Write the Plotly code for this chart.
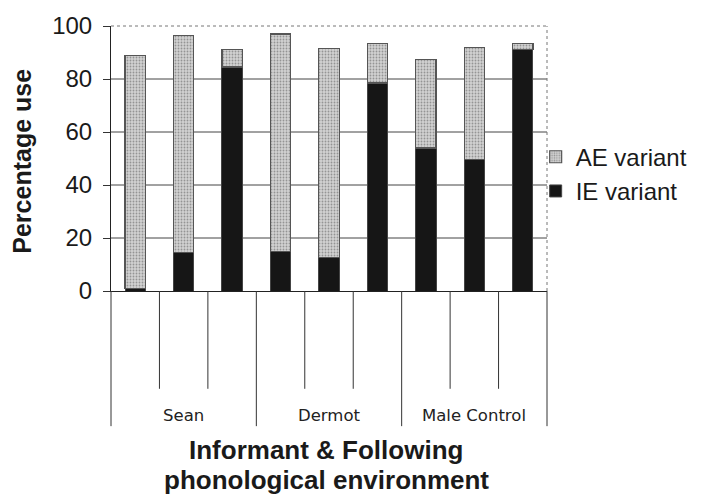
import plotly.graph_objects as go

groups = ["Sean", "Dermot", "Male Control"]
envs_per_group = 3
ie_variant = [1, 14.5, 84.5, 15, 12.5, 78.5, 54, 49.5, 91]
ae_variant = [88, 82, 6.5, 82, 79, 15, 33.5, 42.5, 2.5]
y_ticks = [0, 20, 40, 60, 80, 100]

n = len(ie_variant)
xs = list(range(n))

fig = go.Figure()
fig.add_trace(go.Bar(
    x=xs, y=ie_variant, name="IE variant",
    marker=dict(color="#161616", line=dict(color="#444", width=1)),
))
fig.add_trace(go.Bar(
    x=xs, y=ae_variant, name="AE variant",
    marker=dict(color="#cfcfcf", line=dict(color="#555", width=1.2),
                pattern=dict(shape=".", fgcolor="#555", bgcolor="#d2d2d2",
                             size=3, solidity=0.3)),
))

shapes = []
for v in y_ticks[1:-1]:
    shapes.append(dict(type="line", xref="paper", yref="y", x0=0, x1=1, y0=v, y1=v,
                       line=dict(color="#444", width=1), layer="below"))
shapes.append(dict(type="line", xref="paper", yref="paper", x0=0, x1=1, y0=1, y1=1,
                   line=dict(color="#777", width=1, dash="dot")))
shapes.append(dict(type="line", xref="paper", yref="paper", x0=1, x1=1, y0=0, y1=1,
                   line=dict(color="#777", width=1, dash="dot")))
for i in range(n + 1):
    is_group = (i % envs_per_group == 0)
    shapes.append(dict(type="line", xref="paper", yref="paper",
                       x0=i / n, x1=i / n, y0=0, y1=-0.51 if is_group else -0.369,
                       line=dict(color="#333", width=1)))

annotations = []
for g, name in enumerate(groups):
    annotations.append(dict(text=name, xref="paper", yref="paper",
                            x=(g * envs_per_group + envs_per_group / 2) / n, y=-0.47,
                            showarrow=False, xanchor="center", yanchor="middle",
                            font=dict(family="DejaVu Sans", size=16.5, color="#222")))
for txt, yy in [("Informant & Following", -0.600), ("phonological environment", -0.712)]:
    annotations.append(dict(text="<b>" + txt + "</b>", xref="paper", yref="paper",
                            x=0.494, y=yy, showarrow=False,
                            xanchor="center", yanchor="middle",
                            font=dict(family="Liberation Sans", size=26, color="#1a1a1a")))
annotations.append(dict(text="<b>Percentage use</b>", xref="paper", yref="paper",
                        x=-0.204, y=0.488, textangle=-90, showarrow=False,
                        xanchor="center", yanchor="middle",
                        font=dict(family="Liberation Sans", size=25, color="#1a1a1a")))

fig.update_layout(
    width=723, height=498,
    margin=dict(l=111, r=176, t=23, b=207),
    paper_bgcolor="white", plot_bgcolor="white",
    barmode="stack", bargap=0.58,
    showlegend=True,
    legend=dict(x=0.974, y=0.59, xanchor="left", yanchor="top",
                font=dict(family="Liberation Sans", size=24, color="#1a1a1a"),
                bgcolor="rgba(0,0,0,0)"),
    shapes=shapes, annotations=annotations,
    font=dict(family="Liberation Sans"),
)
fig.update_xaxes(range=[-0.5, n - 0.5], showticklabels=False, ticks="",
                 showgrid=False, zeroline=False, showline=True,
                 linecolor="#222", linewidth=1)
fig.update_yaxes(range=[0, 100], tickvals=y_ticks, ticks="outside", ticklen=7,
                 tickcolor="#333", showgrid=False, zeroline=False, showline=True,
                 linecolor="#222", linewidth=1,
                 tickfont=dict(family="Liberation Sans", size=24, color="#1a1a1a"),
                 ticklabelstandoff=6)

fig.write_html("out.html", config={"displayModeBar": False},
               post_script="document.body.style.margin='0';")
